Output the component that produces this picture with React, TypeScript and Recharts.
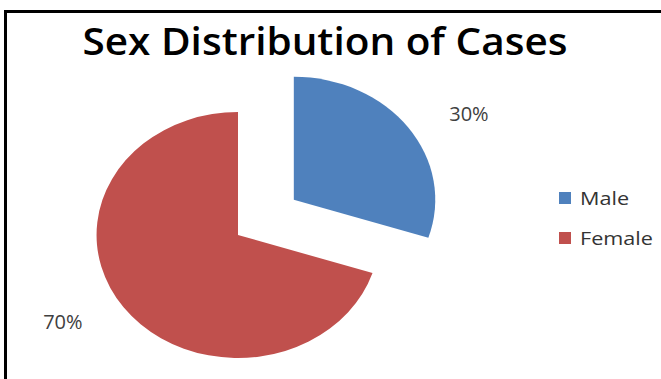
import React from "react";
import { PieChart, Pie, Cell, Legend } from "recharts";

const categories = ["Male", "Female"];
const shares = [30, 70];
const colors = ["#4F81BD", "#C0504D"];

// slice pulled out of the pie (Male), in px along its mid angle
const explode = [60, 0];

const data = categories.map((name, i) => ({ name, value: shares[i] }));

const CX = 238;
const CY = 235;
const R = 123;
const SX = 1.15; // the pie in the picture is a little wider than tall

const RAD = Math.PI / 180;

const sliceMid = (i: number) => {
	const total = shares.reduce((a, b) => a + b, 0);
	const before = shares.slice(0, i).reduce((a, b) => a + b, 0);
	return 90 - ((before + shares[i] / 2) / total) * 360;
};

const sliceTransform = (i: number) => {
	const m = sliceMid(i) * RAD;
	const dx = explode[i] * Math.cos(m) * SX;
	const dy = -explode[i] * Math.sin(m);
	return `translate(${CX + dx} ${CY + dy}) scale(${SX} 1) translate(${-CX} ${-CY})`;
};

const renderLabel = (props: any) => {
	const { cx, cy, midAngle, outerRadius, percent, index } = props;
	const m = midAngle * RAD;
	const ex = explode[index];
	const bx = cx + ex * Math.cos(m) * SX;
	const by = cy - ex * Math.sin(m);
	const x = bx + outerRadius * Math.cos(m) * 1.76;
	const y = by - outerRadius * Math.sin(m) * 1.19;
	return (
		<text
			x={x}
			y={y}
			textAnchor="middle"
			dominantBaseline="central"
			fill="#404040"
			fontSize={20}
			fontFamily="'Open Sans', sans-serif"
		>
			{`${Math.round(percent * 100)}%`}
		</text>
	);
};

const renderLegend = (props: any) => {
	const payload = [...(props.payload || [])].sort(
		(a: any, b: any) => categories.indexOf(a.value) - categories.indexOf(b.value)
	);
	return (
		<div>
			{payload.map((p: any, i: number) => (
				<div key={i} style={{ display: "flex", alignItems: "center", height: 20, marginBottom: 20 }}>
					<span style={{ width: 12, height: 12, background: p.color, display: "inline-block", marginRight: 9 }} />
					<span
						style={{
							fontFamily: "'Open Sans', sans-serif",
							fontSize: 18,
							color: "#333",
							display: "inline-block",
							transform: "scaleX(1.2)",
							transformOrigin: "left center"
						}}
					>
						{p.value}
					</span>
				</div>
			))}
		</div>
	);
};

const App = () => {
	return (
		<div style={{ position: "absolute", left: 0, top: 0, width: 661, height: 379, background: "#fff" }}>
			<div
				style={{
					position: "absolute",
					left: 4,
					top: 10,
					width: 657,
					height: 369,
					borderTop: "3px solid #000",
					borderLeft: "3px solid #000",
					boxSizing: "border-box"
				}}
			/>
			<svg width={661} height={80} style={{ position: "absolute", left: 0, top: 0 }}>
				<text
					x={325}
					y={55}
					textAnchor="middle"
					fontFamily="'Open Sans', sans-serif"
					fontWeight={600}
					fontSize={38}
					fill="#000"
					textLength={485}
					lengthAdjust="spacingAndGlyphs"
				>
					Sex Distribution of Cases
				</text>
			</svg>
			<div style={{ position: "absolute", left: 0, top: 0 }}>
				<PieChart width={661} height={379} margin={{ top: 0, right: 0, bottom: 0, left: 0 }}>
					<Pie
						data={data}
						dataKey="value"
						nameKey="name"
						cx={CX}
						cy={CY}
						outerRadius={R}
						startAngle={90}
						endAngle={-270}
						stroke="none"
						label={renderLabel}
						labelLine={false}
						isAnimationActive={false}
					>
						{data.map((d, i) => (
							<Cell key={d.name} fill={colors[i]} transform={sliceTransform(i)} />
						))}
					</Pie>
					<Legend
						layout="vertical"
						align="right"
						verticalAlign="middle"
						content={renderLegend}
						wrapperStyle={{ left: 559, top: 188, width: 100, right: "auto" }}
					/>
				</PieChart>
			</div>
		</div>
	);
};

export default App;
